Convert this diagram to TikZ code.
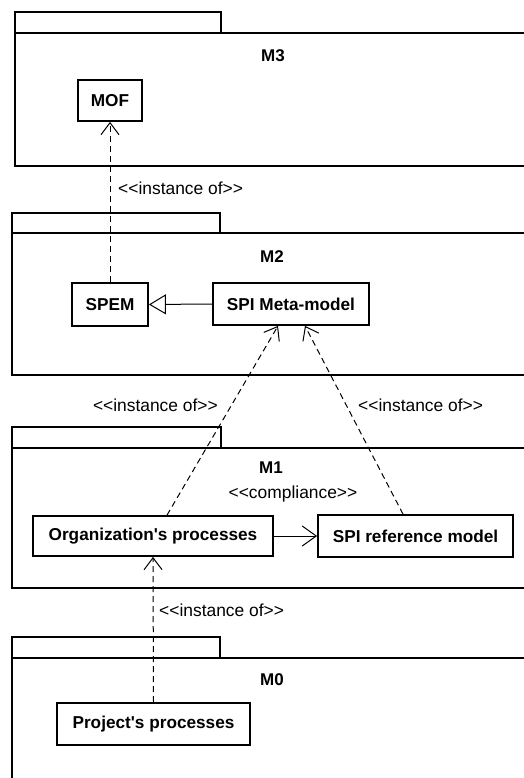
\documentclass[tikz,border=0pt]{standalone}
\usepackage{fontspec}
\newfontfamily\uifont{Liberation Sans}
\usetikzlibrary{arrows.meta,calc}
\begin{document}
\begin{tikzpicture}[x=1pt,y=-1pt,
  pkg/.style={line width=1.8pt},
  cls/.style={draw,line width=1.8pt,font=\uifont\fontsize{17.2}{20}\selectfont\bfseries,inner sep=0pt,fill=white},
  pkglabel/.style={font=\uifont\fontsize{17}{20}\selectfont\bfseries,inner sep=0pt},
  stereo/.style={font=\uifont\fontsize{17.4}{20}\selectfont,inner sep=0pt},
  dep/.style={line width=1pt,dash pattern=on 6pt off 4pt,-{Straight Barb[length=12pt,width=18pt,line width=1pt]}},
  gen/.style={line width=1pt,-{Triangle[open,length=17pt,width=20pt,line width=1pt]}},
  assoc/.style={line width=1pt,-{Straight Barb[length=14pt,width=20pt,line width=1pt]}}
]
\useasboundingbox (0,0) rectangle (524,778);
\clip (0,0) rectangle (524,778);
\fill[white] (0,0) rectangle (524,778);

% packages
\draw[pkg] (15,33) -- (15,12) -- (221,12) -- (221,33);
\draw[pkg] (15,33) rectangle (540,166);
\draw[pkg] (12,233) -- (12,213) -- (220,213) -- (220,233);
\draw[pkg] (12,233) rectangle (540,375);
\draw[pkg] (12,448) -- (12,427) -- (221,427) -- (221,448);
\draw[pkg] (12,448) rectangle (540,588);
\draw[pkg] (12,658) -- (12,637) -- (220,637) -- (220,658);
\draw[pkg] (12,658) rectangle (540,800);

\node[pkglabel] (m3) at (273,56) {M3};
\node[pkglabel] (m2) at (272,257) {M2};
\node[pkglabel] (m1) at (271,468) {M1};
\node[pkglabel] (m0) at (272,680) {M0};

% classes
\node[cls,minimum width=64pt,minimum height=41pt] (mof) at (110,100.5) {MOF};
\node[cls,minimum width=76pt,minimum height=43pt] (spem) at (110,304.5) {SPEM};
\node[cls,minimum width=156pt,minimum height=42pt] (meta) at (291,304) {SPI Meta-model};
\node[cls,minimum width=240pt,minimum height=40pt] (org) at (153,536) {Organization's processes};
\node[cls,minimum width=195pt,minimum height=42pt] (ref) at (415.5,536) {SPI reference model};
\node[cls,minimum width=193pt,minimum height=42pt] (proj) at (153.5,724) {Project's processes};

% connectors
\draw[dep] (spem.north) -- (mof.south);
\draw[gen] (meta.west) -- (spem.east);
\draw[dep] ([xshift=14pt]org.north) -- ([xshift=-13pt]meta.south);
\draw[dep] ([xshift=-12.5pt]ref.north) -- ([xshift=14pt]meta.south);
\draw[assoc] (org.east) -- (ref.west);
\draw[dep] (proj.north) -- (org.south);

% stereotype labels
\node[stereo,anchor=west] (l1) at (118,188) {<<instance of>>};
\node[stereo,anchor=east] (l2) at (218,405) {<<instance of>>};
\node[stereo,anchor=west] (l3) at (358,405) {<<instance of>>};
\node[stereo] (l4) at (293,494) {<<compliance>>};
\node[stereo,anchor=west] (l5) at (159,610) {<<instance of>>};
\end{tikzpicture}
\end{document}
